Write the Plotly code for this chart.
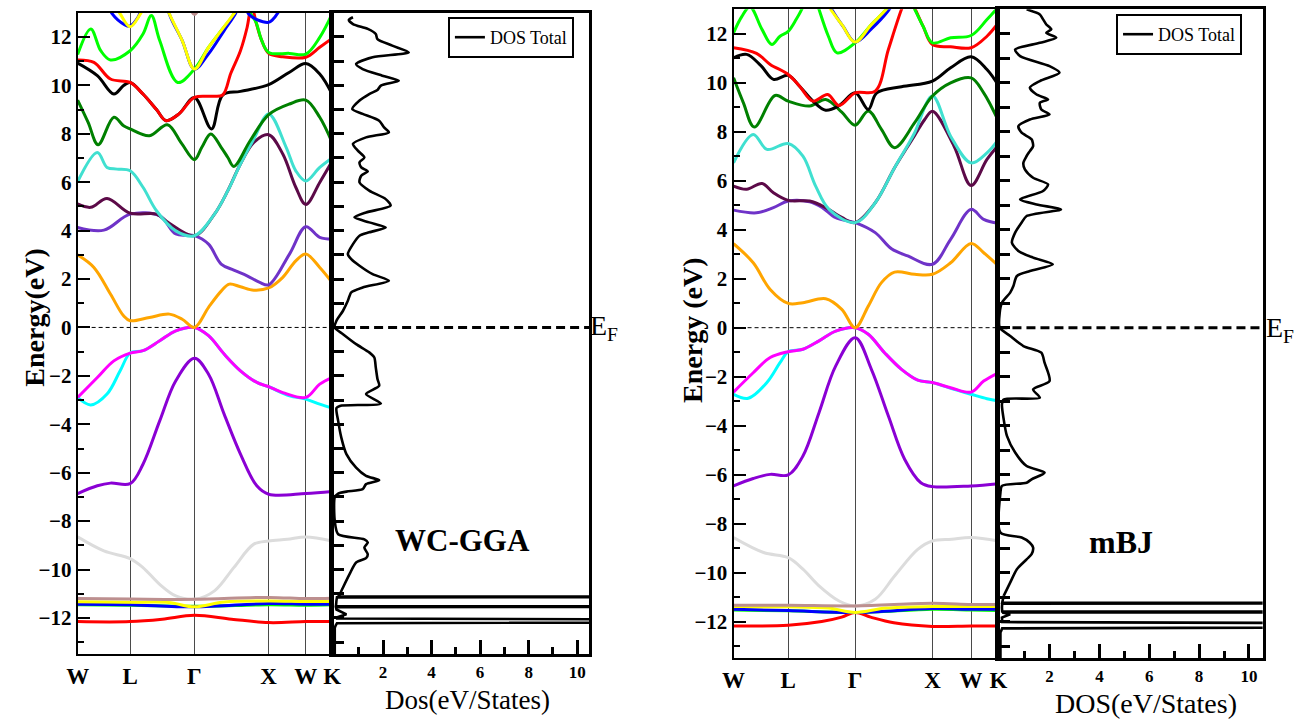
import numpy as np
import plotly.graph_objects as go

# ---------------------------------------------------------------------------
# k-path W-L-Γ-X-W-K of the fcc Brillouin zone (distances in units of 2π/a)
# ---------------------------------------------------------------------------
KPATH_LABELS = ["W", "L", "Γ", "X", "W", "K"]
KPATH_DIST = [0.0, 0.707, 1.573, 2.573, 3.073, 3.427]

# Band energies (eV, E_F = 0). First list: path coordinate
# (0=W, 1=L, 2=Γ, 3=X, 4=W, 5=K), second list: energy.
# ---- WC-GGA ----
GGA_GRAY = ([0, .5, 1, 1.2, 1.46, 1.71, 2, 2.27, 2.53, 2.80, 3, 3.5, 4, 5],
            [-8.65, -9.23, -9.55, -9.92, -10.61, -11.09, -11.23, -10.88, -9.92, -8.95, -8.82, -8.75, -8.65, -8.82])
GGA_RED_LOW = ([0, 1, 1.5, 2, 2.5, 3, 4, 5],
               [-12.15, -12.15, -12.05, -11.89, -12.05, -12.19, -12.15, -12.15])
GGA_LIME_LOW = ([0, 1, 2, 3, 4, 5], [-11.45, -11.47, -11.52, -11.45, -11.47, -11.45])
GGA_BLUE_LOW = ([0, 1, 2, 3, 4, 5], [-11.43, -11.45, -11.54, -11.40, -11.43, -11.43])
GGA_YELLOW_LOW = ([0, 1, 1.6, 2, 2.4, 3, 4, 5],
                  [-11.33, -11.35, -11.36, -11.54, -11.34, -11.30, -11.32, -11.32])
GGA_BROWN_LOW = ([0, 1, 2, 3, 4, 5], [-11.20, -11.22, -11.23, -11.15, -11.20, -11.18])
GGA_VIOLET = ([0, .375, .625, 1, 1.2, 1.46, 1.71, 2, 2.19, 2.40, 2.62, 2.84, 3, 4, 5],
              [-6.86, -6.54, -6.43, -6.45, -5.65, -3.86, -2.2, -1.27, -1.93, -3.58, -5.23, -6.54, -6.89, -6.86, -6.78])
GGA_CYAN_LOW = ([0, .25, .56, .81, 1, 1.2, 1.46, 1.71, 2, 2.19, 2.40, 2.62, 2.84, 3, 3.56, 4, 4.53, 5],
                [-2.89, -3.2, -2.75, -1.79, -1.06, -0.96, -0.55, -0.14, 0, -0.34, -1.1, -1.79, -2.27, -2.45, -2.82, -2.96, -3.17, -3.33])
GGA_MAGENTA = ([0, .375, .69, 1, 1.2, 1.46, 1.71, 2, 2.19, 2.40, 2.62, 2.84, 3, 3.38, 4, 4.53, 5],
               [-2.89, -2.07, -1.38, -1.06, -0.96, -0.55, -0.14, 0, -0.34, -1.1, -1.79, -2.27, -2.45, -2.69, -2.89, -2.34, -2.07])
GGA_ORANGE = ([0, .31, .625, .875, 1, 1.3, 1.61, 1.81, 2, 2.19, 2.36, 2.47, 2.62, 2.80, 3, 3.38, 3.73, 4, 4.53, 5],
              [3.0, 2.48, 1.38, 0.48, 0.28, 0.41, 0.55, 0.34, 0.0, 0.83, 1.5, 1.79, 1.68, 1.54, 1.63, 2.07, 2.75, 3.03, 2.48, 1.86])
GGA_PURPLE = ([0, .5, 1, 1.46, 1.71, 2, 2.19, 2.36, 2.53, 2.71, 2.88, 3, 3.56, 4, 4.53, 5],
              [4.13, 4.02, 4.68, 4.61, 3.86, 3.79, 3.44, 2.62, 2.37, 2.13, 1.86, 1.76, 3.03, 4.16, 3.72, 3.65])
GGA_MAROON = ([0, .25, .56, 1, 1.41, 1.61, 2, 2.27, 2.45, 2.62, 2.80, 3, 3.38, 3.73, 4, 4.53, 5],
              [5.10, 4.96, 5.33, 4.72, 4.68, 4.3, 3.79, 4.68, 5.65, 6.75, 7.64, 7.96, 7.16, 5.79, 5.08, 5.99, 6.86])
GGA_CYAN = ([0, .375, .56, .75, 1, 1.2, 1.41, 1.71, 2, 2.27, 2.45, 2.62, 2.80, 3, 3.47, 3.73, 4, 4.53, 5],
            [6.02, 7.23, 6.61, 6.54, 6.47, 5.79, 4.82, 3.99, 3.79, 4.68, 5.65, 6.75, 7.78, 8.82, 7.44, 6.47, 6.05, 6.61, 7.0])
GGA_GREEN = ([0, .2, .39, .69, .875, 1, 1.3, 1.58, 1.8, 2, 2.1, 2.22, 2.36, 2.45, 2.53, 2.75, 3, 3.56, 4, 4.53, 5],
             [9.39, 8.47, 7.55, 8.68, 8.33, 8.2, 7.92, 8.37, 7.6, 6.93, 7.44, 7.99, 7.44, 7.02, 6.65, 7.71, 8.79, 9.23, 9.39, 8.68, 7.64])
GGA_BLACK = ([0, .375, .69, .875, 1, 1.2, 1.41, 1.56, 1.76, 2, 2.23, 2.38, 2.62, 3, 3.56, 4, 4.53, 5],
             [10.92, 10.4, 9.64, 9.99, 10.12, 9.64, 9.0, 8.54, 8.82, 9.5, 8.2, 9.6, 9.75, 10.03, 10.54, 10.9, 10.47, 9.64])
GGA_RED = ([0, .31, .625, 1, 1.2, 1.41, 1.56, 1.76, 2, 2.22, 2.38, 2.49, 2.62, 2.71, 2.77, 2.83, 2.9, 3, 3.38, 4, 4.53, 5],
           [11.05, 10.95, 10.26, 10.12, 9.64, 9.0, 8.54, 8.82, 9.5, 9.55, 9.6, 10.5, 11.43, 12.4, 13.3, 12.6, 11.9, 11.32, 11.18, 11.16, 11.57, 11.94])
GGA_LIME = ([0, .25, .44, .625, 1, 1.2, 1.33, 1.46, 1.74, 2, 2.19, 2.36, 2.53, 2.65, 2.75, 2.83, 2.9, 3, 3.56, 4, 4.53, 5],
            [11.27, 12.33, 11.43, 11.05, 11.43, 12.12, 12.88, 11.85, 10.12, 10.67, 11.57, 12.26, 12.95, 13.8, 13.0, 12.6, 11.9, 11.36, 11.32, 11.29, 11.98, 12.95])
GGA_BLUE = ([.45, .66, .9, 1, 1.12, 1.3, 1.5, 1.61, 1.81, 2, 2.19, 2.40, 2.55, 2.64, 2.73, 2.85, 3, 3.1, 3.25, 3.45],
            [14.0, 12.95, 12.5, 12.45, 12.8, 13.9, 14.2, 12.95, 11.85, 10.67, 11.3, 12.26, 12.95, 13.5, 12.95, 12.7, 12.6, 12.7, 13.0, 13.6])
GGA_YELLOW = ([.6, .81, 1, 1.16, 1.4, 1.61, 1.81, 2, 2.19, 2.36, 2.53, 2.7],
              [13.7, 12.95, 12.42, 12.95, 14.2, 12.95, 11.85, 10.67, 11.57, 12.26, 12.95, 13.7])
GGA_BROWN_TOP = ([1.9, 2, 2.1], [13.4, 12.93, 13.4])

# ---- mBJ ----
MBJ_GRAY = ([0, .55, 1, 1.22, 1.46, 1.76, 2, 2.26, 2.51, 2.81, 3, 3.5, 4, 5],
            [-8.57, -9.18, -9.39, -9.86, -10.54, -11.16, -11.36, -11.09, -10.14, -9.05, -8.71, -8.64, -8.57, -8.71])
MBJ_RED_LOW = ([0, 1, 1.5, 1.8, 2, 2.2, 2.5, 3, 4, 5],
               [-12.18, -12.15, -12.0, -11.82, -11.63, -11.82, -12.05, -12.2, -12.18, -12.18])
MBJ_LIME_LOW = ([0, 1, 2, 3, 4, 5], [-11.53, -11.56, -11.63, -11.50, -11.53, -11.55])
MBJ_BLUE_LOW = ([0, 1, 2, 3, 4, 5], [-11.50, -11.55, -11.63, -11.47, -11.50, -11.50])
MBJ_YELLOW_LOW = ([0, 1, 1.6, 2, 2.4, 3, 4, 5],
                  [-11.39, -11.40, -11.45, -11.63, -11.45, -11.39, -11.39, -11.39])
MBJ_BROWN_LOW = ([0, 1, 2, 3, 4, 5], [-11.33, -11.33, -11.36, -11.25, -11.30, -11.30])
MBJ_VIOLET = ([0, .36, .67, 1, 1.22, 1.46, 1.71, 2, 2.21, 2.43, 2.64, 2.85, 3, 4, 5],
              [-6.46, -6.16, -5.99, -6.01, -5.24, -3.47, -1.56, -0.41, -1.7, -3.61, -5.37, -6.33, -6.49, -6.46, -6.37])
MBJ_CYAN_LOW = ([0, .27, .61, .85, 1, 1.22, 1.46, 1.71, 2, 2.17, 2.38, 2.6, 2.81, 3, 3.56, 4, 4.58, 5],
                [-2.72, -2.88, -2.24, -1.43, -0.98, -0.88, -0.54, -0.14, 0, -0.27, -1.02, -1.7, -2.14, -2.24, -2.52, -2.72, -2.9, -2.99])
MBJ_MAGENTA = ([0, .36, .67, 1, 1.22, 1.46, 1.71, 2, 2.17, 2.38, 2.6, 2.81, 3, 3.47, 4, 4.46, 5],
               [-2.63, -1.84, -1.22, -0.98, -0.88, -0.54, -0.14, 0, -0.27, -1.02, -1.7, -2.14, -2.24, -2.45, -2.63, -2.18, -1.84])
MBJ_ORANGE = ([0, .36, .67, 1, 1.22, 1.56, 1.80, 2, 2.17, 2.34, 2.51, 2.77, 3, 3.47, 4, 4.46, 5],
              [3.43, 2.65, 1.56, 0.99, 1.02, 1.18, 0.75, 0, 0.88, 1.84, 2.27, 2.18, 2.18, 2.65, 3.44, 3.06, 2.52])
MBJ_PURPLE = ([0, .42, .73, 1, 1.32, 1.51, 1.71, 2, 2.26, 2.47, 2.68, 3, 3.47, 4, 4.46, 5],
              [4.8, 4.69, 4.9, 5.17, 5.14, 4.9, 4.49, 4.29, 3.88, 3.22, 2.93, 2.59, 3.61, 4.83, 4.42, 4.26])
MBJ_MAROON = ([0, .24, .52, .73, 1, 1.32, 1.56, 1.8, 2, 2.26, 2.51, 2.68, 2.77, 2.9, 3, 3.56, 4, 4.58, 5],
              [5.78, 5.65, 5.89, 5.51, 5.2, 5.17, 4.9, 4.5, 4.29, 5.1, 6.53, 7.4, 7.85, 8.5, 8.84, 7.41, 5.81, 6.87, 7.46])
MBJ_CYAN = ([0, .36, .61, 1, 1.22, 1.41, 1.61, 2, 2.26, 2.51, 2.68, 2.77, 3, 3.47, 4, 4.58, 5],
            [6.73, 7.89, 7.28, 7.52, 7.0, 5.78, 4.83, 4.29, 5.1, 6.53, 7.45, 7.96, 9.46, 7.82, 6.73, 7.14, 7.69])
MBJ_GREEN = ([0, .18, .38, .76, 1, 1.32, 1.56, 1.8, 2, 2.17, 2.34, 2.51, 2.77, 3, 3.47, 4, 4.46, 5],
             [10.2, 9.18, 8.19, 9.48, 9.25, 9.05, 9.32, 8.8, 8.27, 8.85, 8.1, 7.35, 8.37, 9.46, 10.0, 10.2, 9.59, 8.44])
MBJ_BLACK = ([0, .24, .5, .73, 1, 1.17, 1.37, 1.56, 1.76, 2, 2.17, 2.28, 2.6, 3, 3.47, 4, 4.58, 5],
             [11.02, 11.16, 10.7, 10.14, 10.3, 9.86, 9.25, 8.88, 9.07, 9.59, 8.91, 9.59, 9.84, 10.07, 10.61, 11.06, 10.54, 9.89])
MBJ_RED = ([0, .42, .67, 1, 1.17, 1.37, 1.59, 1.76, 2, 2.26, 2.43, 2.6, 2.68, 2.77, 2.88, 3, 3.47, 4, 4.58, 5],
           [11.43, 11.2, 10.75, 10.34, 9.86, 9.25, 9.52, 9.07, 9.59, 9.66, 11.36, 13.0, 13.6, 13.05, 12.3, 11.56, 11.47, 11.43, 11.9, 12.45])
MBJ_LIME = ([0, .15, .3, .52, .70, .85, 1, 1.12, 1.22, 1.35, 1.46, 1.6, 1.73, 2, 2.21, 2.43, 2.6, 2.77, 2.88, 3, 3.47, 4, 4.58, 5],
            [12.04, 12.7, 13.1, 12.18, 11.56, 11.9, 12.1, 12.59, 13.1, 14.0, 13.0, 11.9, 11.22, 11.63, 12.38, 13.1, 14.0, 13.0, 12.3, 11.63, 11.84, 11.93, 12.58, 13.1])
MBJ_BLUE = ([1.5, 1.65, 1.82, 2, 2.21, 2.43, 2.6],
            [13.9, 13.0, 12.3, 11.66, 12.2, 12.95, 13.8])
MBJ_YELLOW = ([1.45, 1.61, 1.8, 2, 2.21, 2.43, 2.6],
              [13.9, 13.1, 12.38, 11.66, 12.38, 13.1, 13.9])

# Total density of states: energy (eV) and DOS (states/eV)
DOS_GGA_E = [12.81, 12.70, 12.53, 12.33, 12.12, 11.91, 11.64, 11.36, 11.16, 10.88, 10.67, 10.40, 10.19, 9.99,
             9.81, 9.64, 9.37, 9.02, 8.82, 8.54, 8.26, 8.06, 7.85, 7.58, 7.30, 7.02, 6.82, 6.61, 6.45, 6.27,
             5.99, 5.65, 5.30, 5.03, 4.75, 4.55, 4.34, 4.13, 3.93, 3.79, 3.44, 3.03, 2.82, 2.55, 2.20, 1.93,
             1.65, 1.45, 1.10, 0.69, 0.28, 0.0, -0.28, -0.69, -1.03, -1.24, -1.65, -2.13, -2.41, -2.75, -3.14,
             -3.24, -3.33, -3.86, -4.55, -5.23, -5.79, -6.13, -6.31, -6.47, -6.68, -6.78, -6.86, -7.02, -7.99,
             -8.54, -8.75, -8.88, -9.09, -9.37, -9.53, -9.71, -10.19, -10.74, -11.02]
DOS_GGA_VAL = [0.76, 0.59, 0.76, 1.37, 1.70, 1.77, 2.38, 3.06, 1.57, 0.89, 1.16, 1.97, 2.65, 1.91,
               1.77, 1.43, 1.03, 0.73, 1.16, 1.84, 2.04, 2.24, 1.30, 0.76, 0.96, 1.23, 1.03, 1.10, 1.37, 1.10,
               1.03, 1.43, 2.11, 2.31, 1.30, 0.82, 1.43, 2.11, 1.43, 1.03, 0.76, 0.55, 0.69, 1.03, 1.57, 2.24,
               1.16, 0.69, 0.55, 0.35, 0.08, 0.0, 0.35, 0.89, 1.43, 1.64, 1.70, 1.77, 1.84, 1.30, 1.91,
               0.22, 0.08, 0.15, 0.28, 0.49, 0.89, 1.30, 1.84, 1.30, 1.16, 0.49, 0.15, 0.01, 0.01,
               0.15, 1.23, 1.37, 1.23, 1.37, 1.30, 0.89, 0.62, 0.35, 0.22]
# semicore peaks (sharp, far beyond the DOS axis range)
DOS_GGA_CORE_E = [-11.02, -11.11, -11.13, -11.15, -11.27, -11.41, -11.51, -11.53, -11.55, -11.65, -11.85,
                  -11.98, -12.02, -12.12, -12.22, -12.30, -12.40, -13.50]
DOS_GGA_CORE_VAL = [0.22, 0.15, 40.0, 0.10, 0.08, 0.05, 0.06, 40.0, 0.06, 0.08, 0.49,
                    0.08, 0.10, 35.0, 0.10, 0.05, 0.01, 0.01]

DOS_MBJ_E = [13.0, 12.79, 12.59, 12.38, 12.18, 12.04, 11.84, 11.63, 11.36, 11.09, 10.68, 10.41, 10.07, 9.80,
             9.52, 9.32, 9.18, 8.91, 8.71, 8.50, 8.23, 7.96, 7.69, 7.41, 7.21, 7.01, 6.73, 6.46, 6.12, 5.85,
             5.58, 5.24, 5.03, 4.83, 4.56, 4.29, 3.88, 3.47, 3.13, 2.86, 2.59, 2.31, 2.11, 1.70, 1.43, 1.02,
             0.61, 0.0, -0.34, -0.75, -1.02, -1.43, -2.18, -2.52, -2.86, -2.93, -3.13, -3.74, -4.42, -5.10,
             -5.65, -5.92, -6.19, -6.33, -6.46, -6.73, -8.37, -8.57, -8.78, -8.98, -9.25, -9.46, -9.86,
             -10.41, -10.95]
DOS_MBJ_VAL = [1.08, 1.61, 1.74, 1.87, 2.07, 1.87, 2.27, 1.61, 0.62, 0.82, 2.00, 2.40, 1.61, 1.21,
               1.48, 1.94, 1.61, 1.67, 2.00, 1.21, 0.75, 0.88, 1.28, 1.34, 1.21, 1.08, 0.95, 1.01, 1.34, 1.94,
               1.74, 0.82, 1.48, 2.46, 1.08, 0.88, 0.62, 0.49, 0.75, 1.34, 2.13, 1.21, 0.69, 0.55, 0.42, 0.09,
               0.0, 0.0, 0.42, 0.95, 1.67, 1.80, 2.00, 1.34, 1.61, 0.16, 0.09, 0.16, 0.29, 0.62,
               1.08, 1.80, 1.28, 1.08, 0.09, 0.03, 0.03, 0.88, 1.21, 1.34, 1.28, 1.08, 0.69,
               0.42, 0.16]
DOS_MBJ_CORE_E = [-10.95, -11.23, -11.25, -11.27, -11.43, -11.59, -11.61, -11.63, -11.70, -11.84,
                  -12.02, -12.15, -12.28, -12.45, -13.50]
DOS_MBJ_CORE_VAL = [0.16, 0.10, 40.0, 0.10, 0.09, 0.10, 40.0, 0.10, 0.42, 0.09,
                    0.10, 40.0, 0.10, 0.03, 0.03]

# ---------------------------------------------------------------------------
W_PX, H_PX = 1312, 720
SERIF = "Liberation Serif, Times New Roman, serif"

COL = dict(gray="#dcdcdc", red="#ff0000", lime="#00ff00", blue="#0000ff", yellow="#ffff00",
           brown="#bc8f8f", violet="#8a00d4", cyan_low="#00ffff", magenta="#ff00ff",
           orange="#ffa500", purple="#6f33c8", maroon="#5c0a48", cyan="#40e0d0",
           green="#008000", black="#000000")

GGA_BANDS = [
    (GGA_GRAY, "gray"), (GGA_RED_LOW, "red"), (GGA_LIME_LOW, "lime"), (GGA_BLUE_LOW, "blue"),
    (GGA_YELLOW_LOW, "yellow"), (GGA_BROWN_LOW, "brown"), (GGA_VIOLET, "violet"),
    (GGA_CYAN_LOW, "cyan_low"), (GGA_MAGENTA, "magenta"), (GGA_ORANGE, "orange"),
    (GGA_PURPLE, "purple"), (GGA_MAROON, "maroon"), (GGA_CYAN, "cyan"), (GGA_GREEN, "green"),
    (GGA_BLACK, "black"), (GGA_RED, "red"), (GGA_LIME, "lime"), (GGA_BLUE, "blue"),
    (GGA_YELLOW, "yellow"), (GGA_BROWN_TOP, "brown"),
]
MBJ_BANDS = [
    (MBJ_GRAY, "gray"), (MBJ_RED_LOW, "red"), (MBJ_LIME_LOW, "lime"), (MBJ_BLUE_LOW, "blue"),
    (MBJ_YELLOW_LOW, "yellow"), (MBJ_BROWN_LOW, "brown"), (MBJ_VIOLET, "violet"),
    (MBJ_CYAN_LOW, "cyan_low"), (MBJ_MAGENTA, "magenta"), (MBJ_ORANGE, "orange"),
    (MBJ_PURPLE, "purple"), (MBJ_MAROON, "maroon"), (MBJ_CYAN, "cyan"), (MBJ_GREEN, "green"),
    (MBJ_BLACK, "black"), (MBJ_RED, "red"), (MBJ_LIME, "lime"), (MBJ_BLUE, "blue"),
    (MBJ_YELLOW, "yellow"),
]


def path_to_k(s):
    """Map the path coordinate onto the cumulative k-distance."""
    return np.interp(np.asarray(s, float), np.arange(len(KPATH_DIST)), KPATH_DIST)


fig = go.Figure()

panels = [
    dict(bands=GGA_BANDS, dos=(DOS_GGA_E, DOS_GGA_VAL), core=(DOS_GGA_CORE_E, DOS_GGA_CORE_VAL),
         xb="x", yb="y", xd="x2", yd="y2", legend="legend"),
    dict(bands=MBJ_BANDS, dos=(DOS_MBJ_E, DOS_MBJ_VAL), core=(DOS_MBJ_CORE_E, DOS_MBJ_CORE_VAL),
         xb="x3", yb="y3", xd="x4", yd="y4", legend="legend2"),
]

for p in panels:
    for (s, e), cname in p["bands"]:
        fig.add_trace(go.Scatter(
            x=path_to_k(s), y=e, mode="lines", xaxis=p["xb"], yaxis=p["yb"],
            line=dict(color=COL[cname], width=3, shape="spline", smoothing=1.0),
            showlegend=False, hoverinfo="skip"))
    de, dv = p["dos"]
    fig.add_trace(go.Scatter(
        x=dv, y=de, mode="lines", xaxis=p["xd"], yaxis=p["yd"], name="DOS Total",
        line=dict(color="black", width=2.6, shape="spline", smoothing=0.7),
        legend=p["legend"], legendgroup=p["legend"], showlegend=True, hoverinfo="skip"))
    ce, cv = p["core"]
    fig.add_trace(go.Scatter(
        x=cv, y=ce, mode="lines", xaxis=p["xd"], yaxis=p["yd"],
        line=dict(color="black", width=2.6), legendgroup=p["legend"],
        showlegend=False, hoverinfo="skip"))

# ---------------------------------------------------------------------------
# Axes
# ---------------------------------------------------------------------------
def fx(px):
    return px / W_PX


def fy(py):
    return 1 - py / H_PX


E_RANGE = [-13.5, 13]


def band_xaxis(domain):
    return dict(domain=domain, range=[0, KPATH_DIST[-1]], tickmode="array",
                tickvals=KPATH_DIST, ticktext=KPATH_LABELS, ticks="",
                tickfont=dict(family=SERIF, size=23, color="black", weight="bold"),
                showgrid=True, gridcolor="#4a4a4a", gridwidth=1, zeroline=False,
                showline=True, mirror=True, linecolor="black", linewidth=2)


def band_yaxis(domain, anchor):
    return dict(domain=domain, anchor=anchor, range=E_RANGE, tickmode="linear", tick0=0, dtick=2,
                ticks="inside", ticklen=12, tickwidth=2, tickcolor="black",
                minor=dict(ticks="inside", ticklen=6, tickwidth=2, tickcolor="black", dtick=1, tick0=0),
                tickfont=dict(family=SERIF, size=21, color="black", weight="bold"),
                showgrid=False, zeroline=False, showline=True, mirror=True,
                linecolor="black", linewidth=2)


def dos_xaxis(domain, anchor, rng):
    return dict(domain=domain, anchor=anchor, range=rng, tickmode="array",
                tickvals=[2, 4, 6, 8, 10],
                ticks="inside", ticklen=14, tickwidth=3, tickcolor="black",
                minor=dict(ticks="inside", ticklen=7, tickwidth=3, tickcolor="black",
                           tickmode="array", tickvals=[1, 3, 5, 7, 9]),
                tickfont=dict(family=SERIF, size=17, color="black", weight="bold"),
                showgrid=False, zeroline=False, showline=True, mirror=True,
                linecolor="black", linewidth=3)


def dos_yaxis(domain, anchor):
    return dict(domain=domain, anchor=anchor, range=E_RANGE, tickmode="linear", tick0=0, dtick=1,
                ticks="inside", ticklen=12, tickwidth=3, tickcolor="black",
                showticklabels=False, showgrid=False, zeroline=False, showline=True,
                mirror=True, linecolor="black", linewidth=3)


YL = [fy(654.3), fy(12.7)]
YR = [fy(658.3), fy(9.3)]

fig.update_layout(
    width=W_PX, height=H_PX, margin=dict(l=0, r=0, t=0, b=0),
    paper_bgcolor="white", plot_bgcolor="white",
    xaxis=dict(band_xaxis([fx(66.7), fx(325.3)]), anchor="y"),
    yaxis=band_yaxis(YL, "x"),
    xaxis2=dos_xaxis([fx(325.3), fx(586.7)], "y2", [-0.1, 10.5]),
    yaxis2=dos_yaxis(YL, "x2"),
    xaxis3=dict(band_xaxis([fx(733.3), fx(1002.5)]), anchor="y3"),
    yaxis3=band_yaxis(YR, "x3"),
    xaxis4=dos_xaxis([fx(1002.5), fx(1271)], "y4", [-0.05, 10.55]),
    yaxis4=dos_yaxis(YR, "x4"),
    legend=dict(x=fx(443), y=fy(17), xanchor="left", yanchor="top", bgcolor="white",
                bordercolor="black", borderwidth=2,
                font=dict(family=SERIF, size=18, color="black"), itemwidth=30),
    legend2=dict(x=fx(1122), y=fy(14), xanchor="left", yanchor="top", bgcolor="white",
                 bordercolor="black", borderwidth=2,
                 font=dict(family=SERIF, size=18, color="black"), itemwidth=30),
)

# Fermi level
for xb, yb, xd, yd in [("x", "y", "x2", "y2"), ("x3", "y3", "x4", "y4")]:
    fig.add_shape(type="line", xref=f"{xb} domain", yref=yb, x0=0, x1=1, y0=0, y1=0,
                  line=dict(color="black", width=1, dash="4px,3px"), layer="below")
    fig.add_shape(type="line", xref=f"{xd} domain", yref=yd, x0=0, x1=1, y0=0, y1=0,
                  line=dict(color="black", width=3, dash="9px,5px"), layer="above")

# Text
def note(text, x, y, size, bold=False, angle=0, xanchor="center", yanchor="middle"):
    fig.add_annotation(text=text, x=fx(x), y=fy(y), xref="paper", yref="paper",
                       showarrow=False, textangle=angle, xanchor=xanchor, yanchor=yanchor,
                       font=dict(family=SERIF, size=size, color="black",
                                 weight="bold" if bold else "normal"))


note("Energy(eV)", 22, 318, 28, bold=True, angle=-90)
note("Energy (eV)", 692, 330, 28, bold=True, angle=-90)
note("Dos(eV/States)", 463, 700, 27)
note("DOS(eV/States)", 1152, 703, 28)
note("WC-GGA", 458, 540, 31, bold=True)
note("mBJ", 1127, 542, 32, bold=True)
note("E<sub>F</sub>", 585, 328, 28, xanchor="left")
note("E<sub>F</sub>", 1272, 330, 28, xanchor="left")

fig.write_html("out.html")
